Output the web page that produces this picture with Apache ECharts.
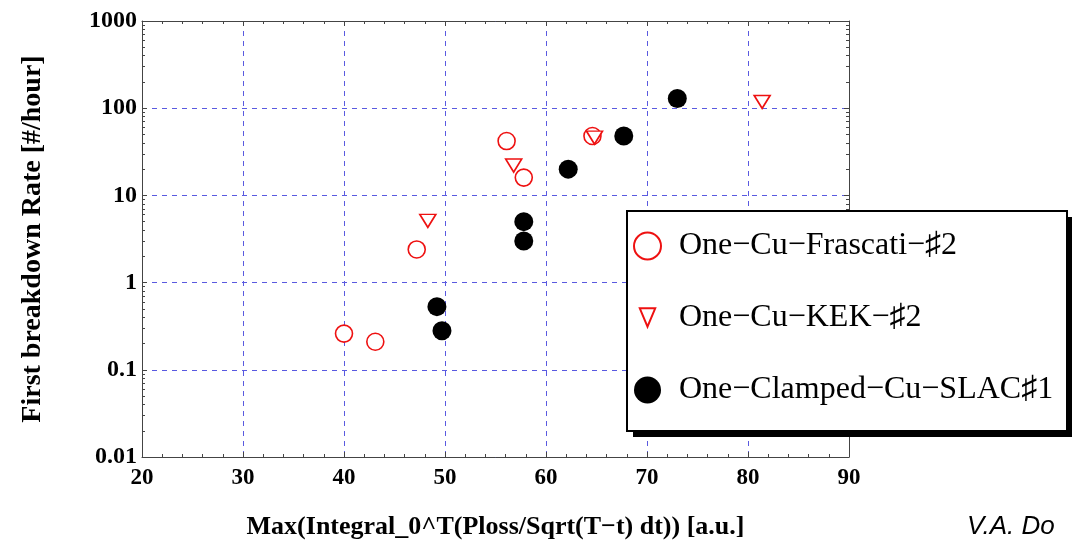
<!DOCTYPE html>
<html>
<head>
<meta charset="utf-8">
<script src="https://cdn.jsdelivr.net/npm/echarts@6/dist/echarts.min.js"></script>
<style>
  html, body { margin: 0; padding: 0; background: #fff; }
  #chart { width: 1072px; height: 551px; }
</style>
</head>
<body>
<div id="chart"></div>
<script>
// series values
const frascatiX = [40.0, 43.1, 47.2, 56.1, 57.8, 64.6];
const frascatiY = [0.26, 0.21, 2.4, 42, 16, 48];
const kekX = [48.3, 56.8, 64.8, 81.4];
const kekY = [5.1, 22, 46, 118];
const slacX = [49.2, 49.7, 57.8, 57.8, 62.2, 67.7, 73.0];
const slacY = [0.53, 0.28, 3.0, 5.0, 20, 48, 129];

const seriesNames = ["One\u2212Cu\u2212Frascati\u2212\u266F2", "One\u2212Cu\u2212KEK\u2212\u266F2", "One\u2212Clamped\u2212Cu\u2212SLAC\u266F1"];
const xTicks = [20, 30, 40, 50, 60, 70, 80, 90];
const yTicks = [0.01, 0.1, 1, 10, 100, 1000];

const pairs = (xs, ys) => xs.map((x, i) => [x, ys[i]]);

const serif = "'Liberation Serif', 'Times New Roman', serif";
const gridColor = "#5a5ae0";
const frameColor = "#444";
const downTri = "path://M0,0 L16,0 L8,13 Z";
// same triangle, padded so the legend draws it smaller
const downTriLegend = "path://M0,0 M28,28 M6,4 L22,4 L14,23 Z";

let chart = echarts.init(document.getElementById("chart"));

const axisTick = { show: true, inside: true, length: 5, lineStyle: { color: frameColor } };
const minorTick = { show: true, length: 3, lineStyle: { color: frameColor } };
const axisLine = { show: true, lineStyle: { color: frameColor, width: 1 } };
const dashed = { show: true, lineStyle: { color: gridColor, type: [5, 5], width: 1 } };

let option = {
  animation: false,
  grid: { left: 142, right: 223, top: 21, bottom: 94 },
  xAxis: [
    {
      type: "value",
      min: xTicks[0],
      max: xTicks[xTicks.length - 1],
      interval: 10,
      name: "Max(Integral_0^T(Ploss/Sqrt(T\u2212t) dt)) [a.u.]",
      nameLocation: "middle",
      nameGap: 57,
      nameTextStyle: { fontFamily: serif, fontWeight: "bold", fontSize: 26, color: "#000" },
      axisLine: axisLine,
      axisTick: axisTick,
      minorTick: Object.assign({ splitNumber: 5 }, minorTick),
      splitLine: dashed,
      axisLabel: { fontFamily: serif, fontWeight: "bold", fontSize: 23, color: "#000", margin: 10 },
    },
    {
      type: "value",
      position: "top",
      min: xTicks[0],
      max: xTicks[xTicks.length - 1],
      interval: 10,
      axisLine: axisLine,
      axisTick: axisTick,
      minorTick: Object.assign({ splitNumber: 5 }, minorTick),
      splitLine: { show: false },
      axisLabel: { show: false },
    },
  ],
  yAxis: [
    {
      type: "log",
      logBase: 10,
      min: yTicks[0],
      max: yTicks[yTicks.length - 1],
      name: "First breakdown Rate [#/hour]",
      nameLocation: "middle",
      nameGap: 95,
      nameTextStyle: { fontFamily: serif, fontWeight: "bold", fontSize: 28, color: "#000" },
      axisLine: axisLine,
      axisTick: axisTick,
      minorTick: Object.assign({ splitNumber: 9 }, minorTick),
      splitLine: dashed,
      axisLabel: {
        fontFamily: serif,
        fontWeight: "bold",
        fontSize: 24,
        color: "#000",
        margin: 5,
        formatter: (v) => String(+v.toPrecision(3)),
      },
    },
    {
      type: "log",
      logBase: 10,
      position: "right",
      min: yTicks[0],
      max: yTicks[yTicks.length - 1],
      axisLine: axisLine,
      axisTick: axisTick,
      minorTick: Object.assign({ splitNumber: 9 }, minorTick),
      splitLine: { show: false },
      axisLabel: { show: false },
    },
  ],
  legend: {
    orient: "vertical",
    left: 633,
    top: 230,
    z: 5,
    itemWidth: 27,
    itemHeight: 27,
    itemGap: 40,
    padding: 0,
    textStyle: { fontFamily: serif, fontSize: 32, color: "#000", lineHeight: 30, padding: [0, 0, 0, 13] },
    data: [
      { name: seriesNames[0] },
      { name: seriesNames[1], icon: downTriLegend },
      { name: seriesNames[2] },
    ],
  },
  graphic: [
    { type: "rect", z: 3, shape: { x: 633, y: 217, width: 440, height: 220 }, style: { fill: "#000" } },
    { type: "rect", z: 3, shape: { x: 627, y: 211, width: 440, height: 220 }, style: { fill: "#fff", stroke: "#000", lineWidth: 2 } },
    {
      type: "text",
      z: 3,
      x: 967,
      y: 527,
      style: { text: "V.A. Do", font: "italic 26px 'Liberation Sans', Arial, sans-serif", fill: "#000", verticalAlign: "middle" },
    },
  ],
  series: [
    {
      name: seriesNames[0],
      type: "scatter",
      symbol: "circle",
      symbolSize: 17,
      itemStyle: { color: "#fff", borderColor: "#ee1111", borderWidth: 1.6, opacity: 1 },
      data: pairs(frascatiX, frascatiY),
    },
    {
      name: seriesNames[1],
      type: "scatter",
      symbol: downTri,
      symbolSize: [16, 13],
      itemStyle: { color: "#fff", borderColor: "#ee1111", borderWidth: 1.6, opacity: 1 },
      data: pairs(kekX, kekY),
    },
    {
      name: seriesNames[2],
      type: "scatter",
      symbol: "circle",
      symbolSize: 19,
      itemStyle: { color: "#000", opacity: 1 },
      data: pairs(slacX, slacY),
    },
  ],
};
chart.setOption(option);
</script>
</body>
</html>
